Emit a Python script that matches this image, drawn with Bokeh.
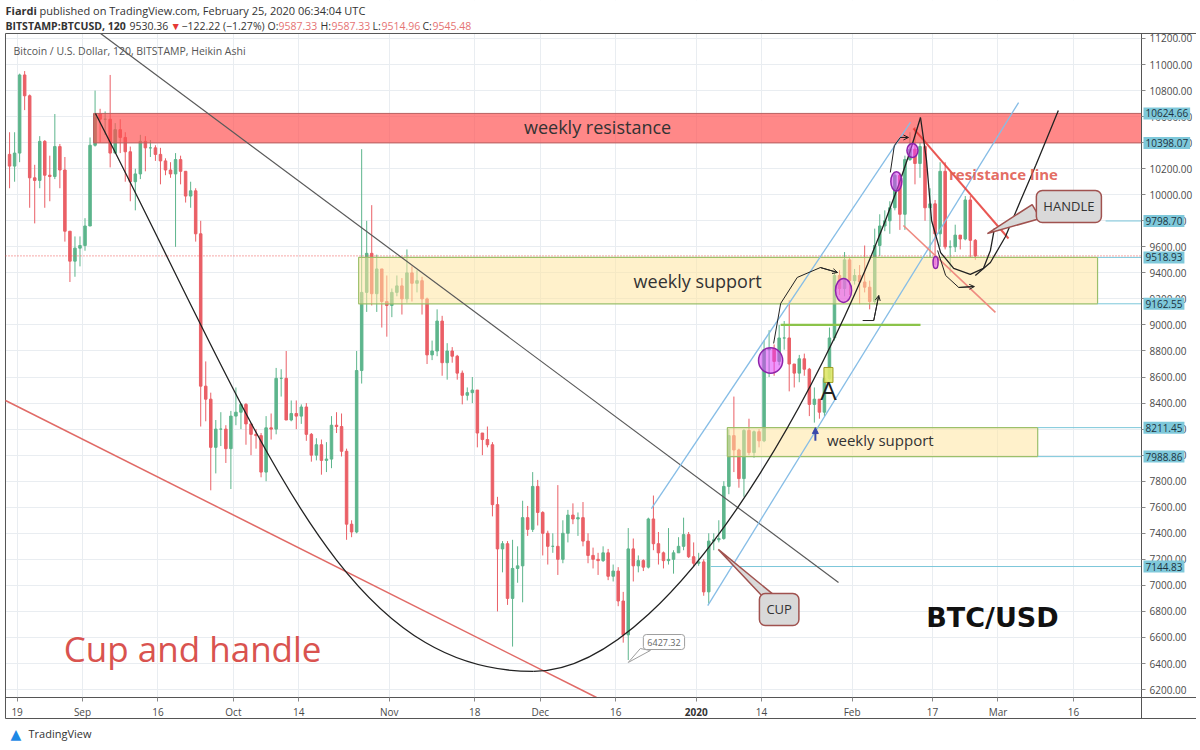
from bokeh.plotting import figure
from bokeh.models import (Range1d, FixedTicker, NumeralTickFormatter,
                          Label, ColumnDataSource, Arrow, NormalHead, OpenHead)
from bokeh.core.properties import value
from bokeh.embed import file_html
from bokeh.resources import INLINE

FONT = "Open Sans"

# ---------------- data (days counted from 1 Sep 2019) ----------------
first_day = -15  # 17 Aug 2019
first_open = 10310
close = [10220, 10320, 10920, 10760, 10130, 10110, 10410, 10150, 10140, 10370, 10190, 9720, 9490, 9590, 9610,
         9760, 10380, 10620, 10580, 10580, 10320, 10500, 10440, 10330, 10100, 10160, 10410, 10360, 10360, 10310,
         10260, 10190, 10160, 10270, 10180, 9990, 10030, 9700, 8530, 8430, 8060, 8200, 8200, 8050, 8300,
         8330, 8390, 8240, 8160, 8150, 7870, 8210, 8200, 8590, 8590, 8270, 8320, 8300, 8370, 8160, 8000,
         8080, 7960, 7970, 8230, 8220, 8030, 7470, 7410, 8650, 9250, 9550, 9240, 9430, 9180, 9150,
         9250, 9300, 9200, 9400, 9320, 9340, 9200, 8770, 8800, 9030, 8710, 8800, 8760, 8630, 8460,
         8480, 8500, 8170, 8120, 8080, 7620, 7280, 7320, 6900, 7130, 7150, 7520, 7430, 7760, 7560,
         7400, 7300, 7300, 7200, 7400, 7540, 7510, 7520, 7340, 7230, 7200, 7190, 7250, 7070, 7110,
         6880, 6620, 7280, 7150, 7190, 7140, 7510, 7320, 7250, 7190, 7200, 7250, 7300, 7390, 7220, 7170,
         7180, 6950, 7340, 7350, 7360, 7760, 8150, 8040, 7820, 8190, 8020, 8180, 8110, 8810, 8820,
         8720, 8900, 8900, 8700, 8630, 8740, 8660, 8390, 8430, 8330, 8590, 8900, 9380, 9280, 9500, 9340,
         9380, 9330, 9290, 9180, 9610, 9760, 9800, 9900, 10150, 9850, 10270, 10350, 10240, 10370, 9900,
         9930, 9700, 10180, 9600, 9600, 9690, 9660, 9960, 9650, 9530]
high = [10480, 10480, 10930, 10950, 10770, 10230, 10450, 10420, 10300, 10620, 10390, 10290, 9720, 9680, 9680,
        9820, 10440, 10800, 10660, 10640, 10920, 10550, 10580, 10480, 10370, 10200, 10460, 10450, 10420, 10380,
        10360, 10280, 10250, 10320, 10300, 10180, 10100, 10050, 9800, 8720, 8480, 8270, 8330, 8230, 8340,
        8520, 8400, 8400, 8240, 8200, 8170, 8300, 8320, 8670, 8660, 8800, 8420, 8420, 8390, 8400, 8170,
        8130, 8120, 8100, 8300, 8330, 8320, 8050, 7500, 8800, 10350, 9800, 9920, 9540, 9430, 9380,
        9280, 9380, 9360, 9580, 9450, 9420, 9370, 9210, 8880, 9120, 9070, 8860, 8830, 8770, 8650,
        8520, 8600, 8500, 8170, 8220, 8100, 7680, 7340, 7340, 7350, 7300, 7650, 7610, 7870, 7810,
        7570, 7420, 7400, 7770, 7500, 7580, 7630, 7560, 7640, 7400, 7290, 7250, 7300, 7280, 7160,
        7140, 6950, 7440, 7360, 7230, 7200, 7520, 7690, 7410, 7260, 7440, 7270, 7370, 7520, 7410, 7330,
        7250, 7200, 7400, 7400, 7500, 7800, 8200, 8450, 8050, 8200, 8280, 8190, 8200, 8880, 8960,
        8850, 9000, 9030, 9190, 8700, 8770, 8780, 8670, 8520, 8430, 8610, 8980, 9400, 9420, 9560, 9520,
        9430, 9460, 9610, 9340, 9740, 9850, 9880, 9950, 10170, 10170, 10300, 10480, 10520, 10400, 10380,
        10050, 9960, 10250, 10250, 9650, 9770, 9690, 9990, 9990, 9660]
low = [10050, 10100, 10250, 10650, 9900, 9780, 10050, 9900, 9950, 10120, 10050, 9640, 9330, 9370, 9450,
       9570, 9760, 10370, 10400, 10460, 10210, 10320, 10320, 10100, 9950, 9880, 10120, 10180, 10290, 10260,
       10080, 10150, 10130, 9600, 10080, 9940, 9900, 9640, 8220, 8260, 7730, 7860, 8070, 7940, 7740,
       8230, 8200, 8080, 8000, 8050, 7830, 7800, 8120, 8160, 8450, 8270, 8260, 8200, 8240, 8110, 7950,
       7960, 7850, 7870, 7900, 8170, 7990, 7350, 7370, 7400, 8550, 9100, 9150, 9100, 8980, 8910,
       9060, 9220, 9080, 9170, 9180, 9250, 9080, 8700, 8730, 8760, 8610, 8580, 8710, 8580, 8390,
       8420, 8400, 8060, 8000, 8060, 7530, 6800, 7100, 6850, 6530, 7020, 6870, 7380, 7410, 7460,
       7230, 7160, 7250, 7080, 7170, 7330, 7470, 7380, 7300, 7170, 7130, 7080, 7180, 7040, 7030,
       6840, 6560, 6427, 7030, 7100, 7110, 7130, 7270, 7160, 7130, 7160, 7090, 7260, 7270, 7210, 7140,
       7150, 6920, 6860, 7270, 7330, 7350, 7700, 7870, 7750, 7680, 8000, 7980, 8060, 8100, 8600,
       8610, 8690, 8810, 8490, 8520, 8560, 8610, 8300, 8250, 8280, 8300, 8580, 8880, 9230, 9220, 9230,
       9310, 9160, 9250, 9120, 9160, 9530, 9720, 9700, 9880, 9730, 9730, 10260, 10080, 10130, 9800,
       9520, 9460, 9600, 9580, 9400, 9560, 9580, 9650, 9520, 9500]

tick_days = [-13, 0, 15, 30, 43, 61, 78, 91, 106, 122, 135, 153, 169, 182, 197]
tick_labels = ["19", "Sep", "16", "Oct", "14", "Nov", "18", "Dec", "16", "2020", "14", "Feb", "17", "Mar", "16"]
price_ticks = list(range(6200, 11201, 200))

# visible chart window (days, prices) and the whole canvas window
win_left, win_right, win_bottom, win_top = -15.31, 210.54, 6139.1, 11238.4
canvas_x = (-16.302, 221.47)
canvas_y = (5793.3, 11491.8)
time_scale_bottom = 5977.6

# zones: (day_from, day_to, price_low, price_high)
resistance_zone = [2.2, 210.54, 10398.07, 10624.66]
support_zone_1 = [54.9, 201.8, 9162.55, 9518.93]
support_zone_2 = [128.2, 189.9, 7988.86, 8211.45]
level_prices = [9798.70, 9518.93, 9162.55, 8211.45, 7988.86, 7144.83]
level_from = [203.4, 201.8, 201.8, 189.9, 189.9, 124.9]
tag_prices = [10624.66, 10398.07, 9798.70, 9518.93, 9162.55, 8211.45, 7988.86, 7144.83]
last_price = 9530.36

# drawn lines: (day, price) pairs
gray_trend_d = [3.6, 150.3]; gray_trend_p = [11238, 7022]
red_trend_d = [-15.31, 102.2]; red_trend_p = [8420, 6139]
chan_up_d = [113.1, 164.6]; chan_up_p = [7590, 10555]
chan_lo_d = [124.3, 186.1]; chan_lo_p = [6845, 10708]
res_line_d = [165.2, 184.1]; res_line_p = [10509, 9664]
res_low_d = [163.2, 181.5]; res_low_p = [9764, 9096]
green_line_d = [138.8, 166.6]; green_line_p = [9000, 9000]

# cup: two cubic curves (start, control 1, control 2, end)
cup_x0 = [2.58, 89.66]; cup_y0 = [10624, 6339]
cup_cx0 = [36.38, 119.48]; cup_cy0 = [8078, 6339]
cup_cx1 = [51.29, 154.67]; cup_cy1 = [6339, 8999]
cup_x1 = [89.66, 166.6]; cup_y1 = [6339, 10593]

handle_d = [166.6, 167.8, 168.8, 170.6, 173.2, 176.5, 179.1, 180.5, 181.3]
handle_p = [10593, 10263, 9802, 9556, 9434, 9388, 9434, 9572, 9741]
rise_d = [177.5, 180.5, 183.5, 186.5, 189.5, 191.8, 194.0]
rise_p = [9380, 9480, 9679, 9956, 10225, 10440, 10647]
arc_low_d = [170.0, 171.6, 174.2, 177.3]
arc_low_p = [9572, 9380, 9288, 9295]
arc_sup_d = [137.4, 138.8, 142.1, 146.7, 150.1]
arc_sup_p = [8858, 9165, 9365, 9441, 9403]
arc_top_d = [160.6, 161.4, 162.6, 164.2]
arc_top_p = [10171, 10378, 10440, 10440]
hook_d = [155.1, 157.3, 158.3]
hook_p = [9034, 9034, 9226]

ell_d = [136.8, 151.3, 161.8, 165.0, 169.6]
ell_p = [8727, 9265, 10102, 10340, 9480]
ell_w = [4.8, 3.2, 2.2, 2.2, 1.0]
ell_h = [195, 184, 150, 108, 92]

W, H = 1196, 742

# ---------------- figure ----------------
p = figure(width=W, height=H, x_range=Range1d(*canvas_x), y_range=Range1d(*canvas_y),
           output_backend="svg", toolbar_location=None, y_axis_location="right",
           min_border_left=0, min_border_top=0, min_border_right=0, min_border_bottom=0,
           background_fill_color="white", border_fill_color="white")
p.outline_line_color = None

xa = p.xaxis[0]
xa.fixed_location = win_bottom
xa.bounds = (win_left, canvas_x[1])
xa.ticker = FixedTicker(ticks=tick_days)
xa.major_label_overrides = {d: ("" if l == "2020" else l) for d, l in zip(tick_days, tick_labels)}
xa.major_label_text_font = FONT
xa.major_label_text_font_size = "10px"
xa.major_label_text_color = "#4a4a4a"
xa.axis_line_color = "#555555"
xa.major_tick_line_color = "#888888"
xa.major_tick_in = 0
xa.major_tick_out = 4
xa.minor_tick_line_color = None
xa.major_label_standoff = 4

ya = p.yaxis[0]
ya.fixed_location = win_right
ya.bounds = (time_scale_bottom, win_top)
ya.ticker = FixedTicker(ticks=price_ticks)
ya.formatter = NumeralTickFormatter(format="0.00")
ya.major_label_text_font = FONT
ya.major_label_text_font_size = "10px"
ya.major_label_text_color = "#4a4a4a"
ya.axis_line_color = "#555555"
ya.major_tick_line_color = "#888888"
ya.major_tick_in = 0
ya.major_tick_out = 4
ya.minor_tick_line_color = None
ya.major_label_standoff = 4

p.xgrid.ticker = FixedTicker(ticks=tick_days)
p.xgrid.grid_line_color = "#e9edf1"
p.ygrid.grid_line_color = "#e9edf1"

# blank margins around the chart window (covers grid lines there)
p.quad(left=[canvas_x[0], canvas_x[0], canvas_x[0], win_right],
       right=[canvas_x[1], canvas_x[1], win_left, canvas_x[1]],
       bottom=[win_top, canvas_y[0], canvas_y[0], canvas_y[0]],
       top=[canvas_y[1], win_bottom, canvas_y[1], canvas_y[1]],
       fill_color="white", line_color=None)
# window borders
p.line([win_left, canvas_x[1]], [win_top, win_top], line_color="#555555", line_width=1)
p.line([win_left, win_left], [time_scale_bottom, win_top], line_color="#555555", line_width=1)
p.line([win_left, canvas_x[1]], [time_scale_bottom, time_scale_bottom], line_color="#555555", line_width=1)

# ---------------- candles ----------------
n = len(close)
opens = [first_open] + close[:-1]
xs = [first_day + i + 0.5 for i in range(n)]
cols = ["#5db58c" if c >= o else "#ea5f66" for o, c in zip(opens, close)]
src = ColumnDataSource(dict(x=xs, o=opens, c=close, h=high, l=low,
                            top=[max(o, c) for o, c in zip(opens, close)],
                            bot=[min(o, c) for o, c in zip(opens, close)], col=cols))
p.segment(x0="x", y0="l", x1="x", y1="h", line_color="col", line_width=1, source=src)
p.vbar(x="x", width=0.5, top="top", bottom="bot", fill_color="col", line_color="col", source=src)

# ---------------- zones ----------------
p.quad(left=[resistance_zone[0]], right=[resistance_zone[1]], bottom=[resistance_zone[2]], top=[resistance_zone[3]],
       fill_color="#ff4f4f", fill_alpha=0.68, line_color="#b86060", line_width=1)
for z in (support_zone_1, support_zone_2):
    p.quad(left=[z[0]], right=[z[1]], bottom=[z[2]], top=[z[3]],
           fill_color="#ffe6a0", fill_alpha=0.55, line_color="#9cc06b", line_width=1.2)

for pr, d0 in zip(level_prices, level_from):
    p.line([d0, win_right], [pr, pr], line_color="#7cc7da", line_width=1)
p.line([win_left, win_right], [last_price, last_price], line_color="#ef5350", line_width=1, line_dash="1 2")

# ---------------- drawn lines ----------------
p.line(gray_trend_d, gray_trend_p, line_color="#5a5a5a", line_width=1.2)
p.line(red_trend_d, red_trend_p, line_color="#e06a66", line_width=1.5)
p.line(chan_up_d, chan_up_p, line_color="#86bde6", line_width=1.3)
p.line(chan_lo_d, chan_lo_p, line_color="#86bde6", line_width=1.3)
p.line(res_line_d, res_line_p, line_color="#e53935", line_width=2, line_alpha=0.85)
p.line(res_low_d, res_low_p, line_color="#ef8a80", line_width=1.6)
p.line(green_line_d, green_line_p, line_color="#8bc34a", line_width=2.2)
p.bezier(x0=cup_x0, y0=cup_y0, x1=cup_x1, y1=cup_y1, cx0=cup_cx0, cy0=cup_cy0, cx1=cup_cx1, cy1=cup_cy1,
         line_color="#222222", line_width=1.3)
p.line(handle_d, handle_p, line_color="#222222", line_width=1.3)
p.line(rise_d, rise_p, line_color="#222222", line_width=1.3)
for dd, pp in ((arc_low_d, arc_low_p), (arc_sup_d, arc_sup_p), (arc_top_d, arc_top_p), (hook_d, hook_p)):
    p.line(dd, pp, line_color="#222222", line_width=1)
    p.add_layout(Arrow(end=OpenHead(size=5, line_color="#222222", line_width=1),
                       x_start=dd[-2], y_start=pp[-2], x_end=dd[-1], y_end=pp[-1],
                       line_color="#222222", line_width=1))

p.ellipse(x=ell_d, y=ell_p, width=ell_w, height=ell_h, fill_color="#e040fb", fill_alpha=0.55,
          line_color="#8e24aa", line_width=1.5)

p.rect(x=[148.3], y=[8616], width=[1.8], height=[115], fill_color="#dfe86a", line_color="#9e9d24", fill_alpha=0.9)
p.text(x=[148.3], y=[8497], text=["A"], text_font=value(FONT), text_font_size="26px", text_color="#222222",
       text_align="center", text_baseline="middle")
p.add_layout(Arrow(end=NormalHead(size=6, fill_color="#3949ab", line_color="#3949ab"),
                   x_start=145.7, y_start=8110, x_end=145.7, y_end=8212, line_color="#3949ab", line_width=2))

# ---------------- callouts ----------------
p.patch([126.4, 135.2, 137.8], [7276, 6915, 6915], fill_color="#d9d9d9", line_color="#a0524f", line_width=1.5)
p.add_layout(Label(x=138.5, y=6815, text="CUP", text_font=FONT, text_font_size="13px", text_color="#333333",
                   text_align="center", text_baseline="middle", background_fill_color="#d9d9d9",
                   border_line_color="#a0524f", border_line_width=1.5, padding=7, border_radius=6))
p.patch([179.9, 188.8, 190.4], [9702, 9925, 9818], fill_color="#d9d9d9", line_color="#a0524f", line_width=1.5)
p.add_layout(Label(x=196.1, y=9910, text="HANDLE", text_font=FONT, text_font_size="13px", text_color="#333333",
                   text_align="center", text_baseline="middle", background_fill_color="#d9d9d9",
                   border_line_color="#a0524f", border_line_width=1.5, padding=7, border_radius=6))
p.patch([108.5, 110.9, 112.9], [6408, 6515, 6500], fill_color="#ffffff", line_color="#9e9e9e", line_width=1)
p.add_layout(Label(x=115.6, y=6565, text="6427.32", text_font=FONT, text_font_size="9px", text_color="#666666",
                   text_align="center", text_baseline="middle", background_fill_color="#ffffff",
                   border_line_color="#9e9e9e", border_line_width=1, padding=4, border_radius=3))

# ---------------- texts ----------------
p.text(x=[102.4], y=[10524], text=["weekly resistance"], text_font=value(FONT), text_font_size="18px",
       text_color="#333333", text_align="center", text_baseline="middle")
p.text(x=[122.3], y=[9341], text=["weekly support"], text_font=value(FONT), text_font_size="18px",
       text_color="#333333", text_align="center", text_baseline="middle")
p.text(x=[158.6], y=[8120], text=["weekly support"], text_font=value(FONT), text_font_size="15px",
       text_color="#333333", text_align="center", text_baseline="middle")
p.text(x=[183.1], y=[10163], text=["resistance line"], text_font=value(FONT), text_font_size="15px",
       text_font_style="bold", text_color="#e05a4f", text_alpha=0.9, text_align="center", text_baseline="middle")
p.text(x=[180.9], y=[6753], text=["BTC/USD"], text_font=value("DejaVu Sans"), text_font_size="27px",
       text_font_style="bold", text_color="#111111", text_align="center", text_baseline="middle")
p.text(x=[21.9], y=[6515], text=["Cup and handle"], text_font=value(FONT), text_font_size="35px",
       text_color="#d9534f", text_align="center", text_baseline="middle")

# price tags on the scale
for pr in tag_prices:
    p.add_layout(Label(x=210.93, y=pr, text=f"{pr:.2f}", text_font=FONT,
                       text_font_size="10px", text_color="#1d3340", text_baseline="middle",
                       background_fill_color="#7ec8da", padding=2))

# bold year label on the time scale
p.add_layout(Label(x=122, y=6031, text="2020", text_font=FONT,
                   text_font_size="10px", text_font_style="bold", text_color="#333333",
                   text_align="center", text_baseline="middle"))

# header, chart caption and footer (screen pixels from the canvas' bottom-left)
hdr = [("Fiardi", 5, H - 10, "bold", "#333333", "11px"),
       ("published on TradingView.com, February 25, 2020 06:34:04 UTC", 39, H - 10, "normal", "#333333", "11px"),
       ("BITSTAMP:BTCUSD, 120", 5, H - 25, "bold", "#333333", "10.5px"),
       ("9530.36", 129, H - 25, "normal", "#333333", "10.5px"),
       ("\u25bc", 170, H - 25, "normal", "#e53935", "10.5px"),
       ("\u2212122.22 (\u22121.27%)", 181, H - 25, "normal", "#333333", "10.5px"),
       ("O:", 267, H - 25, "normal", "#333333", "10.5px"),
       ("9587.33", 278, H - 25, "normal", "#e57373", "10.5px"),
       ("H:", 320, H - 25, "normal", "#333333", "10.5px"),
       ("9587.33", 331, H - 25, "normal", "#e57373", "10.5px"),
       ("L:", 372, H - 25, "normal", "#333333", "10.5px"),
       ("9514.96", 381, H - 25, "normal", "#e57373", "10.5px"),
       ("C:", 422, H - 25, "normal", "#333333", "10.5px"),
       ("9545.48", 432, H - 25, "normal", "#e57373", "10.5px"),
       ("Bitcoin / U.S. Dollar, 120, BITSTAMP, Heikin Ashi", 13, H - 50, "normal", "#555555", "10.5px"),
       ("TradingView", 28, H - 733, "normal", "#333333", "11px")]
for t, x, y, st, col, fs in hdr:
    p.add_layout(Label(x=x, y=y, x_units="screen", y_units="screen", text=t, text_font=FONT, text_font_size=fs,
                       text_font_style=st, text_color=col, text_baseline="middle"))
p.add_layout(Label(x=10, y=H - 733, x_units="screen", y_units="screen", text="\u25b2", text_font="DejaVu Sans",
                   text_font_size="14px", text_color="#1e88e5", text_baseline="middle"))

open("out.html", "w").write(file_html(p, INLINE))
